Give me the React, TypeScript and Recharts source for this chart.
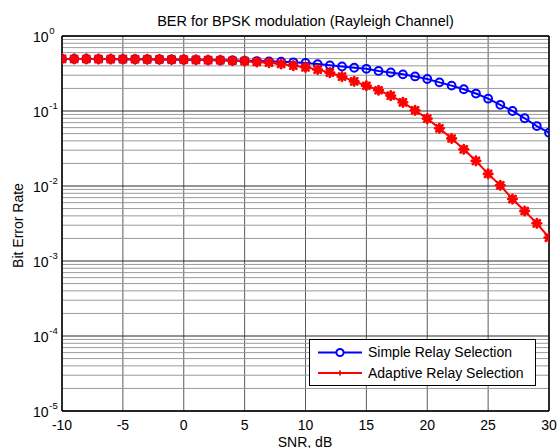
import React from 'react';
import { LineChart, Line, XAxis, YAxis, CartesianGrid, ReferenceLine, Legend, Label } from 'recharts';

const snr = [-10, -9, -8, -7, -6, -5, -4, -3, -2, -1, 0, 1, 2, 3, 4, 5, 6, 7, 8, 9, 10, 11, 12, 13, 14, 15, 16, 17, 18, 19, 20, 21, 22, 23, 24, 25, 26, 27, 28, 29, 30];
const simpleRelay = [0.495, 0.494, 0.494, 0.493, 0.492, 0.491, 0.49, 0.489, 0.487, 0.485, 0.483, 0.481, 0.478, 0.475, 0.471, 0.467, 0.463, 0.459, 0.454, 0.446, 0.438, 0.422, 0.406, 0.392, 0.377, 0.365, 0.342, 0.326, 0.308, 0.289, 0.267, 0.241, 0.218, 0.195, 0.171, 0.146, 0.121, 0.1, 0.08, 0.063, 0.0514];
const adaptiveRelay = [0.495, 0.494, 0.494, 0.493, 0.492, 0.491, 0.49, 0.489, 0.487, 0.485, 0.483, 0.481, 0.478, 0.475, 0.468, 0.462, 0.45, 0.44, 0.423, 0.402, 0.382, 0.356, 0.324, 0.287, 0.248, 0.217, 0.189, 0.16, 0.13, 0.102, 0.079, 0.0588, 0.043, 0.0308, 0.0216, 0.0145, 0.0102, 0.0067, 0.00464, 0.00318, 0.00205];
const xTicks = [-10, -5, 0, 5, 10, 15, 20, 25, 30];
const yTicks = [1e-5, 1e-4, 1e-3, 1e-2, 1e-1, 1];
const minorY = [2, 3, 4, 5, 6, 7, 8, 9].flatMap((m) => [1e-5, 1e-4, 1e-3, 1e-2, 1e-1].map((d) => +(m * d).toPrecision(3)));

const data = snr.map((s, i) => ({ snr: s, simple: simpleRelay[i], adaptive: adaptiveRelay[i] }));

const FONT = '"Liberation Sans", Arial, sans-serif';

const XTick = (props: any) => {
  const { x, y, payload } = props;
  return (
    <text x={x} y={y + 18.5} textAnchor="middle" fontSize={14} fontFamily={FONT} fill="#000">
      {payload.value}
    </text>
  );
};

const YTick = (props: any) => {
  const { x, y, payload } = props;
  const e = Math.round(Math.log10(payload.value));
  return (
    <g>
      <text x={x - 13.5} y={y + 5.5} textAnchor="end" fontSize={14} fontFamily={FONT} fill="#000">10</text>
      <text x={x - 12.7} y={y - 2.5} textAnchor="start" fontSize={9.5} fontFamily={FONT} fill="#000">{e}</text>
    </g>
  );
};

const Star = (props: any) => {
  const { cx, cy } = props;
  if (cx == null || cy == null) return null;
  const r = 4.2;
  const d = 3.1;
  return (
    <g stroke="#ff0000" strokeWidth={2.8} strokeLinecap="round">
      <line x1={cx - r} y1={cy} x2={cx + r} y2={cy} />
      <line x1={cx} y1={cy - r} x2={cx} y2={cy + r} />
      <line x1={cx - d} y1={cy - d} x2={cx + d} y2={cy + d} />
      <line x1={cx - d} y1={cy + d} x2={cx + d} y2={cy - d} />
    </g>
  );
};

const Circle = (props: any) => {
  const { cx, cy } = props;
  if (cx == null || cy == null) return null;
  return <circle cx={cx} cy={cy} r={3.9} fill="none" stroke="#0000ff" strokeWidth={2} />;
};

const LegendBox = () => (
  <div
    style={{
      position: 'relative',
      width: 227,
      height: 47,
      boxSizing: 'border-box',
      border: '1px solid #000',
      background: '#fff',
      fontFamily: FONT,
      fontSize: 14,
      color: '#000',
    }}
  >
    <svg width={60} height={47} style={{ position: 'absolute', left: 0, top: 0 }}>
      <line x1={8} y1={12.5} x2={52} y2={12.5} stroke="#0000ff" strokeWidth={2} />
      <circle cx={30} cy={12.5} r={3.6} fill="#fff" stroke="#0000ff" strokeWidth={2} />
      <line x1={8} y1={33} x2={52} y2={33} stroke="#ff0000" strokeWidth={2} />
      <g stroke="#ff0000" strokeWidth={1.8}>
        <line x1={27.5} y1={33} x2={32.5} y2={33} />
        <line x1={30} y1={30.5} x2={30} y2={35.5} />
      </g>
    </svg>
    <div style={{ position: 'absolute', left: 58, top: 4, whiteSpace: 'nowrap', lineHeight: '17px' }}>Simple Relay Selection</div>
    <div style={{ position: 'absolute', left: 58, top: 24.5, whiteSpace: 'nowrap', lineHeight: '17px' }}>Adaptive Relay Selection</div>
  </div>
);

export default function App() {
  return (
    <div style={{ position: 'absolute', left: 0, top: 0, width: 558, height: 448, background: '#fff' }}>
      <LineChart width={558} height={448} data={data} margin={{ top: 36, right: 9, left: 0, bottom: 0 }}>
        <text x={305.5} y={26} textAnchor="middle" fontSize={14.5} fontFamily={FONT} fill="#000">
          BER for BPSK modulation (Rayleigh Channel)
        </text>
        <CartesianGrid horizontal={false} stroke="#5a5a5a" strokeWidth={1} />
        {minorY.map((v) => (
          <ReferenceLine key={'m' + v} y={v} stroke="#9a9a9a" strokeWidth={1} />
        ))}
        {yTicks.map((v) => (
          <ReferenceLine key={'M' + v} y={v} stroke="#2a2a2a" strokeWidth={1} />
        ))}
        <ReferenceLine x={30} stroke="#000" strokeWidth={1.5} />
        <ReferenceLine y={1} stroke="#000" strokeWidth={1.5} />
        <XAxis
          dataKey="snr"
          type="number"
          domain={[-10, 30]}
          ticks={xTicks}
          allowDataOverflow
          height={37}
          tickLine={false}
          tickSize={0}
          tickMargin={0}
          axisLine={{ stroke: '#000', strokeWidth: 1.5 }}
          tick={<XTick />}
          interval={0}
        >
          <Label
            content={(p: any) => (
              <text x={305} y={446.5} textAnchor="middle" fontSize={14} fontFamily={FONT} fill="#000">
                SNR, dB
              </text>
            )}
          />
        </XAxis>
        <YAxis
          scale="log"
          type="number"
          domain={[1e-5, 1]}
          ticks={yTicks}
          allowDataOverflow
          width={62}
          tickLine={false}
          tickSize={0}
          tickMargin={0}
          axisLine={{ stroke: '#000', strokeWidth: 1.5 }}
          tick={<YTick />}
          interval={0}
        >
          <Label
            content={(p: any) => (
              <text
                x={22.5}
                y={225.5}
                textAnchor="middle"
                fontSize={14}
                fontFamily={FONT}
                fill="#000"
                transform="rotate(-90 22.5 225.5)"
              >
                Bit Error Rate
              </text>
            )}
          />
        </YAxis>
        <Line
          dataKey="simple"
          stroke="#0000ff"
          strokeWidth={2}
          dot={<Circle />}
          activeDot={false}
          isAnimationActive={false}
        />
        <Line
          dataKey="adaptive"
          stroke="#ff0000"
          strokeWidth={2}
          dot={<Star />}
          activeDot={false}
          isAnimationActive={false}
        />
        <Legend
          layout="vertical"
          align="center"
          verticalAlign="middle"
          content={() => <LegendBox />}
          wrapperStyle={{ position: 'absolute', left: 309, top: 339, width: 227, height: 47 }}
        />
      </LineChart>
    </div>
  );
}
